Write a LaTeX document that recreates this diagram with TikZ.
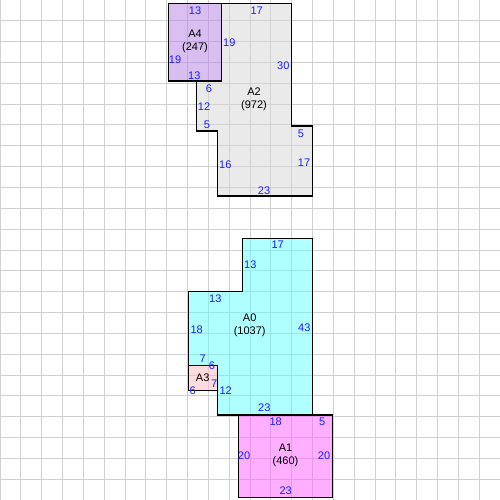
\documentclass[tikz,border=0pt]{standalone}
\usepackage{fontspec}
\setmainfont{Liberation Sans}
\definecolor{gridc}{RGB}{208,208,208}
\definecolor{lblc}{RGB}{30,30,250}
\definecolor{cA0}{RGB}{97,255,255}
\definecolor{cA1}{RGB}{255,97,255}
\definecolor{cA2}{RGB}{215,215,215}
\definecolor{cA3}{RGB}{255,185,195}
\definecolor{cA4}{RGB}{179,127,229}
\tikzset{
  room/.style={draw=black, line width=1.3pt, fill opacity=0.5, line join=miter},
  lbl/.style={text=lblc, font=\fontsize{11}{13}\selectfont, inner sep=0pt},
  rname/.style={text=black, font=\fontsize{11}{13}\selectfont, align=center, inner sep=0pt},
}
\begin{document}
\begin{tikzpicture}[x=1pt,y=-1pt]
\useasboundingbox[fill=white] (0,0) rectangle (500,500);
% grid
\foreach \i in {0,...,24}{
  \draw[gridc, line width=1pt] (\i*20.8333,0) -- (\i*20.8333,500);
  \draw[gridc, line width=1pt] (0,\i*20.8333) -- (500,\i*20.8333);
}
% rooms
\draw[room, fill=cA2] (221.7,3.3) -- (291.5,3.3) -- (291.5,126) -- (312.3,126) -- (312.3,196) -- (217.5,196) -- (217.5,131) -- (196.7,131) -- (196.7,81) -- (221.7,81) -- cycle;
\draw[room, fill=cA4] (168.3,3.3) rectangle (221.7,81);
\draw[room, fill=cA0] (242.3,238.3) -- (312.3,238.3) -- (312.3,415) -- (217.3,415) -- (217.3,365.5) -- (188.3,365.5) -- (188.3,291.7) -- (242.3,291.7) -- cycle;
\draw[room, fill=cA3] (188.3,365.5) rectangle (217.3,390.3);
\draw[room, fill=cA1] (238.3,415) rectangle (332.3,497.3);
% A4 labels
\node[rname] (nA4) at (195,41) {A4\\(247)};
\node[lbl] (a4t) at (195,10.7) {13};
\node[lbl] (a4l) at (175,60) {19};
\node[lbl] (a4b) at (194.3,75.3) {13};
% A2 labels
\node[rname] (nA2) at (254,99) {A2\\(972)};
\node[lbl] (a2a) at (229.3,42.3) {19};
\node[lbl] (a2b) at (256.7,10.7) {17};
\node[lbl] (a2c) at (283.3,65.7) {30};
\node[lbl] (a2d) at (209,88.7) {6};
\node[lbl] (a2e) at (204,106.7) {12};
\node[lbl] (a2f) at (207,124.3) {5};
\node[lbl] (a2g) at (225.3,164.3) {16};
\node[lbl] (a2h) at (301,133.3) {5};
\node[lbl] (a2i) at (304,162.7) {17};
\node[lbl] (a2j) at (264,190.3) {23};
% A0 labels
\node[rname] (nA0) at (249.7,325) {A0\\(1037)};
\node[lbl] (a0a) at (277.7,245) {17};
\node[lbl] (a0b) at (250.3,265) {13};
\node[lbl] (a0c) at (215.3,298.3) {13};
\node[lbl] (a0d) at (196.7,329.3) {18};
\node[lbl] (a0e) at (304.3,327.3) {43};
\node[lbl] (a0f) at (202.7,358.3) {7};
\node[lbl] (a0g) at (225.7,390.3) {12};
\node[lbl] (a0h) at (264.3,407.7) {23};
% A3 labels
\node[rname] (nA3) at (202.7,377.5) {A3};
\node[lbl] (a3a) at (212,366) {6};
\node[lbl] (a3b) at (214.3,384) {7};
\node[lbl] (a3c) at (192.7,390.3) {6};
% A1 labels
\node[rname] (nA1) at (285.5,455) {A1\\(460)};
\node[lbl] (a1a) at (275.7,421.7) {18};
\node[lbl] (a1b) at (322.3,421.7) {5};
\node[lbl] (a1c) at (244,456) {20};
\node[lbl] (a1d) at (324,456) {20};
\node[lbl] (a1e) at (285.7,491) {23};
\end{tikzpicture}
\end{document}
